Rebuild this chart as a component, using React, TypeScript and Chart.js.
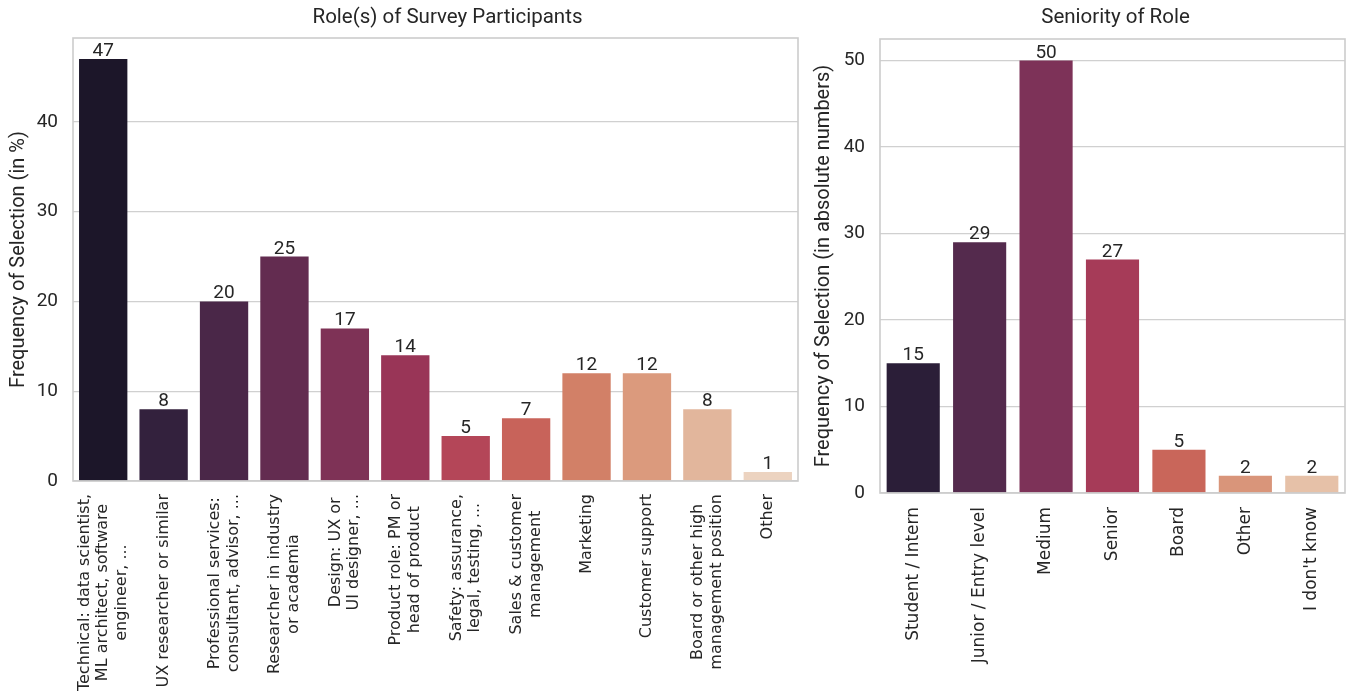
import React, { useEffect, useRef } from "react";
import { Chart, registerables } from "chart.js";

Chart.register(...registerables);

const roleLabels: string[][] = [
  ["Technical: data scientist,", "ML architect, software", "engineer, ..."],
  ["UX researcher or similar"],
  ["Professional services:", "consultant, advisor, ..."],
  ["Researcher in industry", "or academia"],
  ["Design: UX or", "UI designer, ..."],
  ["Product role: PM or", "head of product"],
  ["Safety: assurance,", "legal, testing, ..."],
  ["Sales & customer", "management"],
  ["Marketing"],
  ["Customer support"],
  ["Board or other high", "management position"],
  ["Other"],
];
const roleValues = [47, 8, 20, 25, 17, 14, 5, 7, 12, 12, 8, 1];
const roleColors = [
  "#1c1629", "#33213d", "#4a2748", "#632c50", "#7e3256", "#993557",
  "#b44658", "#c8635a", "#d28067", "#db9a7d", "#e2b69c", "#ecd3c0",
];

const seniorityLabels: string[][] = [
  ["Student / Intern"],
  ["Junior / Entry level"],
  ["Medium"],
  ["Senior"],
  ["Board"],
  ["Other"],
  ["I don't know"],
];
const seniorityValues = [15, 29, 50, 27, 5, 2, 2];
const seniorityColors = ["#2b1e38", "#542a4d", "#7d3258", "#a63b58", "#c9665a", "#d9957a", "#e6c1a8"];

const TEXT = "#262626";

type Spec = {
  title: string;
  titleShift: number;
  yTitle: string;
  labels: string[][];
  values: number[];
  colors: string[];
  yMax: number;
  padTop: number;
  padRight: number;
  yWidth: number;
  xHeight: number;
  xFont: number;
  xGap: number;
  yTitleSize: number;
};

function makeChart(canvas: HTMLCanvasElement, s: Spec) {
  const decor = {
    id: "decor",
    afterDatasetsDraw(chart: any) {
      const ctx = chart.ctx as CanvasRenderingContext2D;
      const a = chart.chartArea;
      ctx.save();
      // frame
      ctx.strokeStyle = "#cccccc";
      ctx.lineWidth = 1.6;
      ctx.strokeRect(a.left, a.top, a.right - a.left, a.bottom - a.top);
      // value labels
      const meta = chart.getDatasetMeta(0);
      ctx.fillStyle = TEXT;
      ctx.font = "19px Roboto";
      ctx.textAlign = "center";
      ctx.textBaseline = "alphabetic";
      meta.data.forEach((el: any, i: number) => {
        ctx.fillText(String(s.values[i]), el.x, el.y - 3);
      });
      // title
      ctx.font = "20.5px Roboto";
      ctx.textBaseline = "middle";
      ctx.fillText(s.title, (a.left + a.right) / 2 + s.titleShift, 18);
      // x labels
      const xs = chart.scales.x;
      ctx.font = `${s.xFont}px "DejaVu Sans"`;
      const lh = s.xFont * 1.17;
      s.labels.forEach((lines, i) => {
        const x = xs.getPixelForValue(i);
        const W = Math.max(...lines.map((l) => ctx.measureText(l).width));
        ctx.save();
        ctx.translate(x, a.bottom + s.xGap);
        ctx.rotate(-Math.PI / 2);
        ctx.textAlign = "center";
        ctx.textBaseline = "middle";
        lines.forEach((l, j) => {
          ctx.fillText(l, -W / 2, (j - (lines.length - 1) / 2) * lh);
        });
        ctx.restore();
      });
      ctx.restore();
    },
  };

  return new Chart(canvas, {
    type: "bar",
    data: {
      labels: s.labels.map((l) => l.join(" ")),
      datasets: [
        {
          data: s.values,
          backgroundColor: s.colors,
          borderWidth: 0,
          barPercentage: 1,
          categoryPercentage: 0.8,
        },
      ],
    },
    options: {
      animation: false,
      responsive: false,
      maintainAspectRatio: false,
      layout: { padding: { top: s.padTop, right: s.padRight, left: 0, bottom: 0 } },
      plugins: { legend: { display: false }, tooltip: { enabled: false }, title: { display: false } },
      scales: {
        x: {
          grid: { display: false },
          border: { display: false },
          ticks: { display: false },
          afterFit: (sc: any) => {
            sc.height = s.xHeight;
          },
        },
        y: {
          min: 0,
          max: s.yMax,
          grid: { color: "#d0d0d0", lineWidth: 1.2, drawTicks: false },
          border: { display: false },
          ticks: {
            stepSize: 10,
            includeBounds: false,
            padding: 15,
            color: TEXT,
            font: { family: "Roboto", size: 19 },
          },
          title: {
            display: true,
            text: s.yTitle,
            color: TEXT,
            font: { family: "Roboto", size: s.yTitleSize },
            padding: { top: 7, bottom: 0 },
          },
          afterFit: (sc: any) => {
            sc.width = s.yWidth;
          },
        },
      },
    },
    plugins: [decor],
  } as any);
}

export default function App() {
  const leftRef = useRef<HTMLCanvasElement>(null);
  const rightRef = useRef<HTMLCanvasElement>(null);

  useEffect(() => {
    const c1 = makeChart(leftRef.current!, {
      title: "Role(s) of Survey Participants",
      titleShift: 12,
      yTitle: "Frequency of Selection (in %)",
      labels: roleLabels,
      values: roleValues,
      colors: roleColors,
      yMax: 47 * 1.05,
      padTop: 38,
      padRight: 7,
      yWidth: 73,
      xHeight: 217,
      xFont: 16,
      xGap: 13,
      yTitleSize: 20,
    });
    const c2 = makeChart(rightRef.current!, {
      title: "Seniority of Role",
      titleShift: 3,
      yTitle: "Frequency of Selection (in absolute numbers)",
      labels: seniorityLabels,
      values: seniorityValues,
      colors: seniorityColors,
      yMax: 50 * 1.05,
      padTop: 39,
      padRight: 3,
      yWidth: 75,
      xHeight: 205,
      xFont: 17,
      xGap: 14,
      yTitleSize: 20,
    });
    return () => {
      c1.destroy();
      c2.destroy();
    };
  }, []);

  return (
    <div style={{ position: "fixed", left: 0, top: 0, width: 1348, height: 698, background: "#fff" }}>
      <canvas ref={leftRef} width={805} height={698} style={{ position: "absolute", left: 0, top: 0, width: 805, height: 698 }} />
      <canvas ref={rightRef} width={543} height={698} style={{ position: "absolute", left: 805, top: 0, width: 543, height: 698 }} />
    </div>
  );
}
